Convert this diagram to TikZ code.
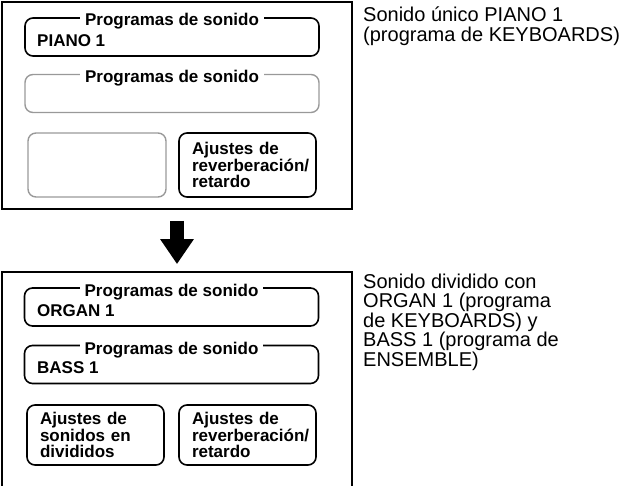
\documentclass[tikz,border=0pt]{standalone}
\usepackage{fontspec}
\setmainfont{Liberation Sans}
\usetikzlibrary{arrows.meta}

\newcommand{\boxfont}{\bfseries\fontsize{17}{16.5}\selectfont}
\newcommand{\notefont}{\fontsize{20}{19.5}\selectfont}

\tikzset{
  panel/.style={draw, line width=1.8pt, minimum width=350pt, minimum height=207pt, inner sep=0pt},
  group/.style={draw, line width=1.6pt, rounded corners=8pt, minimum width=294pt, minimum height=38pt, inner sep=0pt},
  grayed/.style={draw=black!40, line width=1.4pt},
  grouptitle/.style={fill=white, anchor=base, inner xsep=5pt, inner ysep=1pt, font=\boxfont},
  grouptext/.style={anchor=base west, inner sep=0pt, font=\boxfont},
  setbox/.style={draw, line width=1.6pt, rounded corners=8pt, minimum width=137pt, minimum height=62pt, text width=111pt, align=left, inner sep=0pt, font=\boxfont},
  note/.style={align=left, anchor=base west, inner sep=0pt, font=\notefont}
}

\begin{document}
\begin{tikzpicture}[x=1pt,y=-1pt]
  \useasboundingbox (0,0) rectangle (636,486);
  \clip (0,0) rectangle (636,486);
  % upper panel: single sound
  \node[panel] (single) at (177,105.5) {};
  \node[group] (piano) at (172,37) {};
  \node[grouptitle] (pianotitle) at (172,26) {Programas de sonido};
  \node[grouptext] (pianoname) at (37,47) {PIANO 1};
  \node[group, grayed] (empty) at (172,93.5) {};
  \node[grouptitle] (emptytitle) at (172,83) {Programas de sonido};
  \node[setbox, grayed, minimum width=138pt, minimum height=64pt] (nosplit) at (97,165) {};
  \node[setbox, minimum height=64pt] (reverbA) at (247.5,165) {Ajustes de\\reverberación/\\retardo};
  % lower panel: split sound
  \node[panel, minimum height=228pt] (split) at (177,386) {};
  \node[group] (organ) at (171.5,307) {};
  \node[grouptitle] (organtitle) at (171.5,296) {Programas de sonido};
  \node[grouptext] (organname) at (37,316) {ORGAN 1};
  \node[group] (bass) at (171.5,364.5) {};
  \node[grouptitle] (basstitle) at (171.5,354) {Programas de sonido};
  \node[grouptext] (bassname) at (37,373) {BASS 1};
  \node[setbox, minimum height=60pt] (splitset) at (95.5,435) {Ajustes de\\sonidos en\\divididos};
  \node[setbox, minimum height=60pt] (reverbB) at (247.5,435) {Ajustes de\\reverberación/\\retardo};
  \draw[line width=14pt, -{Triangle[width=32pt,length=25pt]}, shorten <=11pt, shorten >=7pt] (single.south) -- (split.north);
  % descriptions (base = last line)
  \node[note] (singlenote) at (363,41.5) {Sonido único PIANO 1\\(programa de KEYBOARDS)};
  \node[note] (splitnote) at (363,366) {Sonido dividido con\\ORGAN 1 (programa\\de KEYBOARDS) y\\BASS 1 (programa de\\ENSEMBLE)};
\end{tikzpicture}
\end{document}
